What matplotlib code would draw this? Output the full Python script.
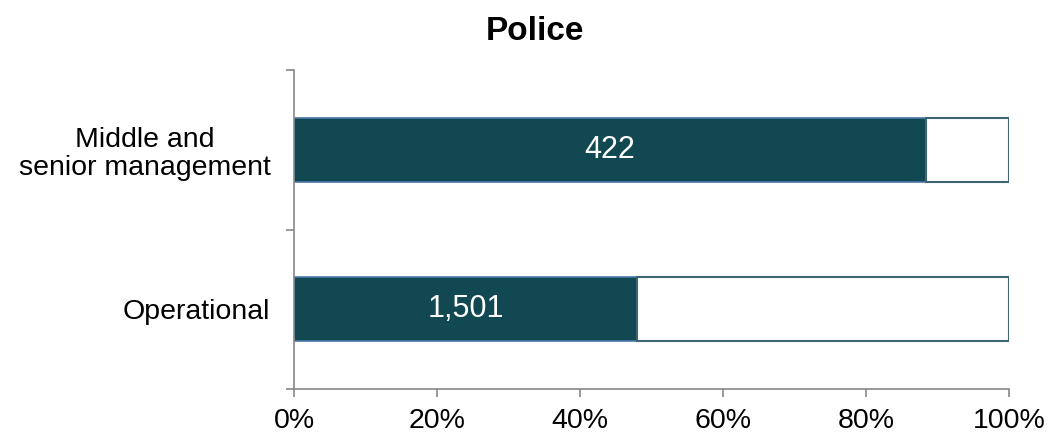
import numpy as np
import matplotlib.pyplot as plt

plt.rcParams['font.family'] = ['Liberation Sans', 'DejaVu Sans']

# Data
categories = ['Operational', 'Middle and\nsenior management']
share = [0.48, 0.884]
counts = ['1,501', '422']

dark = '#124852'

fig = plt.figure(figsize=(10.47, 4.33), dpi=100)
ax = fig.add_axes([0.2808, 0.1016, 0.6829, 0.7367])

y = np.arange(len(categories))
rest = [1 - s for s in share]
ax.barh(y, share, height=0.4, color=dark, edgecolor='#4a78a8', linewidth=1.2, zorder=2)
ax.barh(y, rest, left=share, height=0.4, color='white', edgecolor='#3d6670', linewidth=1.5, zorder=2)

for yi, s, c in zip(y, share, counts):
    ax.text(s / 2, yi, c, ha='center', va='center', color='white', fontsize=22, zorder=3)

ax.set_xlim(0, 1)
ax.set_ylim(-0.5, 1.5)
ax.set_xticks(np.arange(0, 1.01, 0.2))
ax.set_xticklabels(['%d%%' % v for v in range(0, 101, 20)], fontsize=20.5)
ax.set_yticks(y)
ax.set_yticklabels(categories, fontsize=20.5, linespacing=1.1, multialignment='center')
ax.set_yticks([-0.5, 0.5, 1.5], minor=True)
ax.tick_params(axis='y', which='major', length=0, pad=17)
ax.tick_params(axis='y', which='minor', length=5.5, color='#888888', width=1.2)
ax.tick_params(axis='x', length=5.5, color='#888888', width=1.2, pad=8)

for side in ['top', 'right']:
    ax.spines[side].set_visible(False)
for side in ['left', 'bottom']:
    ax.spines[side].set_color('#888888')
    ax.spines[side].set_linewidth(1.2)

fig.text(0.511, 0.928, 'Police', fontsize=24, fontweight='bold', ha='center', va='center')

fig.savefig('out.png', dpi=100)
